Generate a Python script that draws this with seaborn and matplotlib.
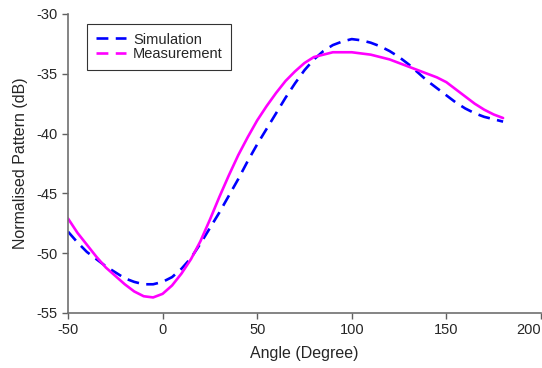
import matplotlib.pyplot as plt
import seaborn as sns
import pandas as pd
from matplotlib.lines import Line2D

angles = list(range(-50, 185, 5))
simulation = [-48.2, -49.1, -49.9, -50.5, -51.1, -51.6, -52.1, -52.4, -52.6, -52.6,
              -52.4, -52.0, -51.3, -50.4, -49.2, -47.9, -46.6, -45.2, -43.8, -42.3,
              -40.9, -39.6, -38.3, -37.0, -35.8, -34.7, -33.8, -33.1, -32.6, -32.3,
              -32.1, -32.2, -32.4, -32.7, -33.1, -33.6, -34.2, -34.9, -35.6, -36.2,
              -36.8, -37.4, -37.9, -38.3, -38.6, -38.8, -39.0]
measurement = [-47.1, -48.3, -49.3, -50.3, -51.2, -51.9, -52.6, -53.2, -53.6, -53.7,
               -53.4, -52.7, -51.7, -50.5, -49.0, -47.2, -45.3, -43.5, -41.8, -40.3,
               -38.9, -37.7, -36.6, -35.6, -34.8, -34.1, -33.6, -33.4, -33.2, -33.2,
               -33.2, -33.3, -33.4, -33.6, -33.8, -34.1, -34.4, -34.7, -35.0, -35.3,
               -35.7, -36.3, -36.9, -37.5, -38.0, -38.4, -38.7]

df = pd.DataFrame({"Angle": angles, "Simulation": simulation, "Measurement": measurement})

sns.set_style("ticks")
plt.rcParams['font.family'] = ['Liberation Sans', 'DejaVu Sans']
plt.rcParams['axes.unicode_minus'] = False

fig = plt.figure(figsize=(5.42, 3.68), dpi=100)
ax = fig.add_axes([0.1255, 0.1495, 0.8725, 0.8125])

dash = (0, (4.5, 2.8))
sns.lineplot(data=df, x="Angle", y="Simulation", ax=ax, color="#0000ff",
             linewidth=1.9, linestyle=dash)
sns.lineplot(data=df, x="Angle", y="Measurement", ax=ax, color="#ff00ff",
             linewidth=1.9)

ax.set_xlim(-50, 200)
ax.set_ylim(-55, -30)
ax.set_xticks([-50, 0, 50, 100, 150, 200])
ax.set_yticks([-55, -50, -45, -40, -35, -30])
ax.tick_params(labelsize=10.5, color="#606060", length=4, width=1, direction="out")
ax.get_xticklabels()[-1].set_horizontalalignment("right")
ax.set_xlabel("Angle (Degree)", fontsize=11.5, labelpad=6)
ax.set_ylabel("Normalised Pattern (dB)", fontsize=11.5, labelpad=6)
sns.despine(ax=ax)
for s in ["left", "bottom"]:
    ax.spines[s].set_color("#707070")
    ax.spines[s].set_linewidth(1.2)

handles = [Line2D([], [], color="#0000ff", lw=1.9, linestyle=dash),
           Line2D([], [], color="#ff00ff", lw=1.9, linestyle=dash)]
leg = ax.legend(handles, ["Simulation", "Measurement"], loc="upper left",
                bbox_to_anchor=(0.04, 0.967), fontsize=10.5, frameon=True,
                fancybox=False, handlelength=2.1, borderpad=0.6,
                labelspacing=0.05, handletextpad=0.45, borderaxespad=0)
leg.get_frame().set_edgecolor("black")
leg.get_frame().set_linewidth(0.8)

fig.savefig("out.png", dpi=100)
